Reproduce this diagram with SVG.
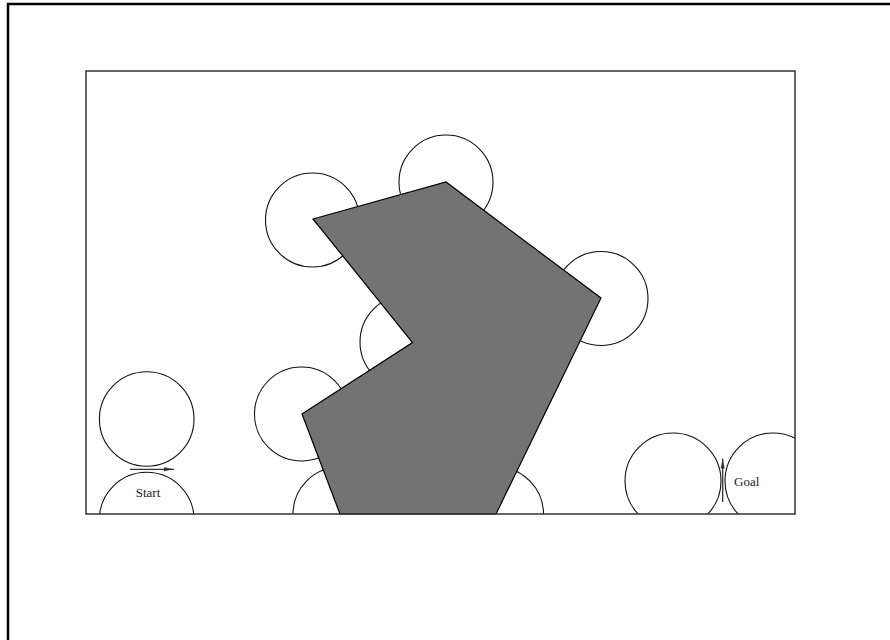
<svg xmlns="http://www.w3.org/2000/svg" width="890" height="640" viewBox="0 0 890 640">
<style>
.c{fill:none;stroke:#111;stroke-width:1.1}
.lbl{font-family:"Liberation Serif","Times New Roman",serif;font-size:13px;fill:#222}
.arr{stroke:#333;stroke-width:1.3;fill:none}
</style>
<defs>
<clipPath id="ws"><rect x="86" y="71" width="709" height="443"/></clipPath>
<marker id="ah" markerWidth="10" markerHeight="6" refX="10" refY="3" orient="auto" markerUnits="userSpaceOnUse"><path d="M0,1 L10,3 L0,5 Z" fill="#333"/></marker>
</defs>
<rect width="890" height="640" fill="#fff"/>
<path id="frame" d="M8,640 V4 H890" fill="none" stroke="#000" stroke-width="2.5"/>
<g id="circles" clip-path="url(#ws)">
<circle class="c" cx="312.5" cy="220" r="47"/>
<circle class="c" cx="446" cy="182" r="47"/>
<circle class="c" cx="601" cy="298.5" r="47"/>
<circle class="c" cx="407" cy="342" r="47"/>
<circle class="c" cx="301.5" cy="414" r="47"/>
<circle class="c" cx="340" cy="514" r="47"/>
<circle class="c" cx="496.5" cy="514" r="47"/>
<circle class="c" cx="146.7" cy="419" r="47.3"/>
<circle class="c" cx="146.7" cy="519.5" r="47.3"/>
<circle class="c" cx="673" cy="481" r="48"/>
<circle class="c" cx="773" cy="481" r="48"/>
</g>
<g id="obstacle">
<polygon points="313,219 446,182 601,298 496,514 340,514 302,414 412.5,342.5" fill="#737373" stroke="#000" stroke-width="1.2" stroke-linejoin="miter"/>
</g>
<rect id="workspace" x="86" y="71" width="709" height="443" fill="none" stroke="#333" stroke-width="1.5"/>
<g id="connectors">
<line class="arr" x1="130" y1="469.3" x2="174" y2="469.3" marker-end="url(#ah)"/>
<line class="arr" x1="722.7" y1="502" x2="722.7" y2="458.5" marker-end="url(#ah)"/>
</g>
<g id="start"><text class="lbl" x="148" y="497" text-anchor="middle">Start</text></g>
<g id="goal"><text class="lbl" x="734" y="486">Goal</text></g>
</svg>
